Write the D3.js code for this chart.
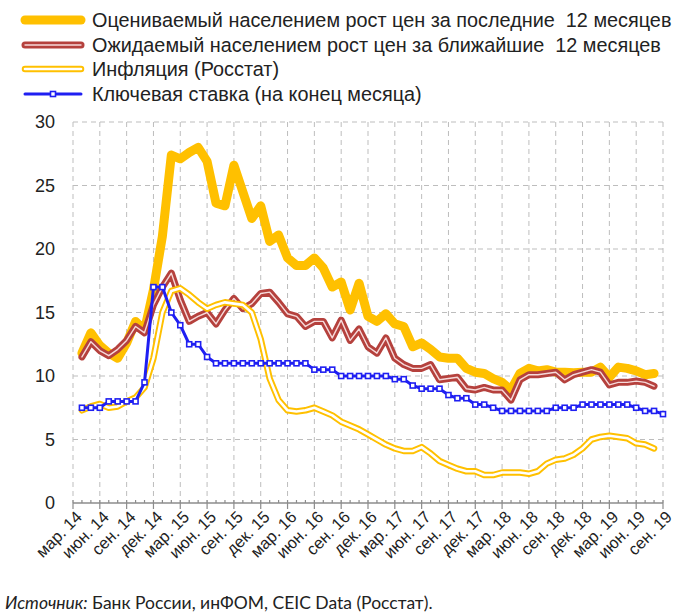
<!DOCTYPE html>
<html>
<head>
<meta charset="utf-8">
<script src="https://cdn.jsdelivr.net/npm/d3@7"></script>
<style>
  body { margin: 0; background: #fff; }
  svg text { font-family: "Liberation Sans", Arial, sans-serif; fill: #222; white-space: pre; }
</style>
</head>
<body>
<div id="chart"></div>
<script>
// tick labels, one every 3 months, from мар.14 to сен.19
var tickLabels = ["мар. 14", "июн. 14", "сен. 14", "дек. 14", "мар. 15", "июн. 15", "сен. 15", "дек. 15",
  "мар. 16", "июн. 16", "сен. 16", "дек. 16", "мар. 17", "июн. 17", "сен. 17", "дек. 17",
  "мар. 18", "июн. 18", "сен. 18", "дек. 18", "мар. 19", "июн. 19", "сен. 19"];

// all series start in апр.14 (month index 1 on the axis)
var firstMonth = 1;

var perceived = [11.8, 13.4, 12.4, 11.8, 11.4, 12.6, 14.3, 13.6, 16.8, 21.0,
  27.4, 27.1, 27.6, 28.0, 26.9, 23.6, 23.4, 26.6, 24.5, 22.4,
  23.4, 20.6, 21.1, 19.3, 18.7, 18.7, 19.3, 18.5, 17.0, 17.4,
  15.2, 17.3, 14.7, 14.3, 14.9, 14.1, 13.9, 12.3, 12.6, 12.1,
  11.5, 11.4, 11.4, 10.6, 10.3, 10.2, 9.8, 9.5, 8.9, 10.2,
  10.6, 10.4, 10.5, 10.3, 10.3, 10.25, 10.3, 10.3, 10.7, 9.9,
  10.7, 10.6, 10.4, 10.1, 10.2];

var expected = [11.5, 12.7, 12.0, 11.6, 12.1, 12.8, 13.9, 13.4, 15.6, 17.0,
  18.1, 16.0, 14.3, 14.7, 15.0, 14.1, 15.2, 16.1, 15.3, 15.7,
  16.5, 16.6, 15.8, 14.9, 14.7, 13.9, 14.3, 14.3, 13.0, 14.4,
  12.8, 13.7, 12.3, 11.8, 13.0, 11.4, 10.9, 10.6, 10.6, 10.9,
  9.7, 9.8, 9.9, 9.0, 8.9, 9.1, 8.9, 8.9, 8.1, 9.7,
  10.1, 10.1, 10.2, 10.3, 9.7, 10.1, 10.3, 10.5, 10.3, 9.3,
  9.5, 9.5, 9.6, 9.5, 9.2];

var inflation = [7.3, 7.6, 7.8, 7.5, 7.6, 8.0, 8.3, 9.1, 11.4,
  15.0, 16.7, 16.9, 16.4, 15.8, 15.3, 15.6, 15.8, 15.7, 15.6, 15.0, 12.9,
  9.8, 8.1, 7.3, 7.2, 7.3, 7.5, 7.2, 6.9, 6.4, 6.1, 5.8, 5.4,
  5.0, 4.6, 4.3, 4.1, 4.1, 4.4, 3.9, 3.3, 3.0, 2.7, 2.5, 2.5,
  2.2, 2.2, 2.4, 2.4, 2.4, 2.3, 2.5, 3.1, 3.4, 3.5, 3.8, 4.3,
  5.0, 5.2, 5.3, 5.2, 5.1, 4.7, 4.6, 4.3];

var keyRate = [7.5, 7.5, 7.5, 8.0, 8.0, 8.0, 8.0, 9.5, 17.0, 17.0,
  15.0, 14.0, 12.5, 12.5, 11.5, 11.0, 11.0, 11.0, 11.0, 11.0,
  11.0, 11.0, 11.0, 11.0, 11.0, 11.0, 10.5, 10.5, 10.5, 10.0,
  10.0, 10.0, 10.0, 10.0, 10.0, 9.75, 9.75, 9.25, 9.0, 9.0,
  9.0, 8.5, 8.25, 8.25, 7.75, 7.75, 7.5, 7.25, 7.25, 7.25,
  7.25, 7.25, 7.25, 7.5, 7.5, 7.5, 7.75, 7.75, 7.75, 7.75,
  7.75, 7.75, 7.5, 7.25, 7.25, 7.0];

var yTicks = [0, 5, 10, 15, 20, 25, 30];

var legendNames = ["Оцениваемый населением рост цен за последние  12 месяцев",
  "Ожидаемый населением рост цен за ближайшие  12 месяцев",
  "Инфляция (Росстат)",
  "Ключевая ставка (на конец месяца)"];

var gold = "#FFC000", red = "#B5413D", blue = "#1F1FF2", grid = "#BDBDBD";

var width = 680, height = 615;
var plot = { left: 73, right: 663, top: 122, bottom: 503 };

var svg = d3.select("#chart").append("svg")
  .attr("width", width)
  .attr("height", height);

var lastIndex = (tickLabels.length - 1) * 3;
var x = d3.scaleLinear().domain([0, lastIndex]).range([plot.left, plot.right]);
var y = d3.scaleLinear().domain([0, 30]).range([plot.bottom, plot.top]);

function toPoints(values) {
  return values.map(function(v, i) { return { m: i + firstMonth, v: v }; });
}

var line = d3.line()
  .x(function(d) { return x(d.m); })
  .y(function(d) { return y(d.v); });

// grid
var gridG = svg.append("g");
gridG.selectAll("line.h")
  .data(yTicks.filter(function(t) { return t > 0; }))
  .enter().append("line")
  .attr("x1", plot.left).attr("x2", plot.right)
  .attr("y1", function(d) { return y(d); }).attr("y2", function(d) { return y(d); })
  .attr("stroke", grid).attr("stroke-dasharray", "5,4");

gridG.selectAll("line.v")
  .data(d3.range(0, lastIndex + 1, 3))
  .enter().append("line")
  .attr("x1", function(d) { return x(d); }).attr("x2", function(d) { return x(d); })
  .attr("y1", plot.top).attr("y2", plot.bottom)
  .attr("stroke", grid).attr("stroke-dasharray", "5,4");

// x axis with month ticks
var xAxis = svg.append("g");
xAxis.append("line")
  .attr("x1", plot.left).attr("x2", plot.right)
  .attr("y1", plot.bottom).attr("y2", plot.bottom)
  .attr("stroke", "#8c8c8c").attr("stroke-width", 1.3);
xAxis.selectAll("line.tick")
  .data(d3.range(0, lastIndex + 1))
  .enter().append("line")
  .attr("x1", function(d) { return x(d); }).attr("x2", function(d) { return x(d); })
  .attr("y1", plot.bottom - 3)
  .attr("y2", function(d) { return d % 3 === 0 ? plot.bottom + 6 : plot.bottom; })
  .attr("stroke", "#8c8c8c").attr("stroke-width", 1.2);

xAxis.selectAll("text")
  .data(tickLabels)
  .enter().append("text")
  .attr("transform", function(d, i) { return "translate(" + (x(i * 3) + 6) + "," + (plot.bottom + 11) + ") rotate(-45)"; })
  .attr("text-anchor", "end")
  .attr("dy", "0.35em")
  .style("font-size", "16.5px")
  .text(function(d) { return d; });

// y labels
svg.append("g").selectAll("text")
  .data(yTicks)
  .enter().append("text")
  .attr("x", 55)
  .attr("y", function(d) { return y(d); })
  .attr("dy", "0.35em")
  .attr("text-anchor", "end")
  .style("font-size", "18px")
  .text(function(d) { return d; });

// series
var series = svg.append("g").attr("fill", "none")
  .attr("stroke-linejoin", "round").attr("stroke-linecap", "round");

series.append("path").datum(toPoints(perceived))
  .attr("d", line).attr("stroke", gold).attr("stroke-width", 9);

series.append("path").datum(toPoints(expected))
  .attr("d", line).attr("stroke", red).attr("stroke-width", 7);
series.append("path").datum(toPoints(expected))
  .attr("d", line).attr("stroke", "#F6DADA").attr("stroke-width", 1.4);

series.append("path").datum(toPoints(inflation))
  .attr("d", line).attr("stroke", gold).attr("stroke-width", 6.5);
series.append("path").datum(toPoints(inflation))
  .attr("d", line).attr("stroke", "#fff").attr("stroke-width", 2.6);

series.append("path").datum(toPoints(keyRate))
  .attr("d", line).attr("stroke", blue).attr("stroke-width", 3);

svg.append("g").selectAll("rect")
  .data(toPoints(keyRate))
  .enter().append("rect")
  .attr("x", function(d) { return x(d.m) - 2.5; })
  .attr("y", function(d) { return y(d.v) - 2.5; })
  .attr("width", 5).attr("height", 5)
  .attr("fill", "#fff").attr("stroke", blue).attr("stroke-width", 1.6);

// legend
var legend = svg.append("g");
var rowY = [20, 45, 69, 94];
var legendTexts = [];
legendNames.forEach(function(name, i) {
  var g = legend.append("g").attr("transform", "translate(0," + rowY[i] + ")");
  if (i === 0) {
    g.append("line").attr("x1", 25).attr("x2", 81).attr("stroke", gold).attr("stroke-width", 9).attr("stroke-linecap", "round");
  } else if (i === 1) {
    g.append("line").attr("x1", 25).attr("x2", 81).attr("stroke", red).attr("stroke-width", 7).attr("stroke-linecap", "round");
    g.append("line").attr("x1", 25).attr("x2", 81).attr("stroke", "#F6DADA").attr("stroke-width", 1.4).attr("stroke-linecap", "round");
  } else if (i === 2) {
    g.append("line").attr("x1", 25).attr("x2", 81).attr("stroke", gold).attr("stroke-width", 6.5).attr("stroke-linecap", "round");
    g.append("line").attr("x1", 25).attr("x2", 81).attr("stroke", "#fff").attr("stroke-width", 2.6).attr("stroke-linecap", "round");
  } else {
    g.append("line").attr("x1", 25).attr("x2", 81).attr("stroke", blue).attr("stroke-width", 3).attr("stroke-linecap", "round");
    g.append("rect").attr("x", 50.5).attr("y", -2.5).attr("width", 5).attr("height", 5)
      .attr("fill", "#fff").attr("stroke", blue).attr("stroke-width", 1.6);
  }
  legendTexts.push(g.append("text").attr("dy", "0.36em")
    .style("font-size", "19.5px")
    .text(name));
});
// stretch legend text horizontally so the first row spans to the right edge
var sx = 580 / legendTexts[0].node().getComputedTextLength();
legendTexts.forEach(function(t) {
  t.attr("transform", "translate(92,0) scale(" + sx + ",1)");
});

// source note
var note = svg.append("text").attr("x", 5).attr("y", 609)
  .style("font-family", "Lato, 'Open Sans', sans-serif").style("font-size", "17.5px");
note.append("tspan").style("font-style", "italic").text("Источник:");
note.append("tspan").text(" Банк России, инФОМ, CEIC Data (Росстат).");
</script>
</body>
</html>
